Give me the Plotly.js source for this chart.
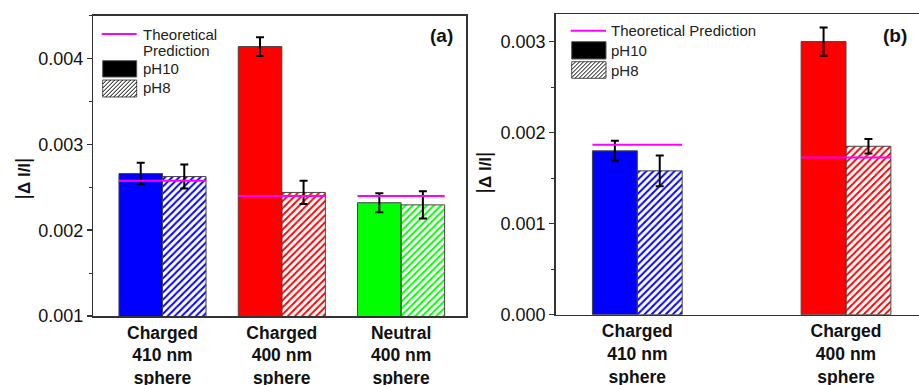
<!DOCTYPE html>
<html>
<head>
<meta charset="utf-8">
<script src="https://cdn.plot.ly/plotly-3.0.1.min.js"></script>
<style>html,body{margin:0;padding:0;background:#fff;}#chart{width:919px;height:385px;}</style>
</head>
<body>
<div id="chart"></div>
<script>
// ---------- data ----------
const categoriesA = ['Charged<br>410 nm<br>sphere', 'Charged<br>400 nm<br>sphere', 'Neutral<br>400 nm<br>sphere'];
const colorsA = ['#0000FF', '#FF0000', '#00FF00'];
const pH10A = [0.00266, 0.00414, 0.00232];
const pH10ErrA = [0.000125, 0.00011, 0.00011];
const pH8A = [0.002625, 0.00244, 0.002295];
const pH8ErrA = [0.00014, 0.000135, 0.00016];
const theoryA = [0.002575, 0.0024, 0.0024];

const categoriesB = ['Charged<br>410 nm<br>sphere', 'Charged<br>400 nm<br>sphere'];
const colorsB = ['#0000FF', '#FF0000'];
const pH10B = [0.0018, 0.0030];
const pH10ErrB = [0.00011, 0.000155];
const pH8B = [0.00158, 0.00185];
const pH8ErrB = [0.00017, 0.00008];
const theoryB = [0.001866, 0.001726];

const yTickValsA = [0.001, 0.002, 0.003, 0.004];
const yTickValsB = [0.000, 0.001, 0.002, 0.003];

// ---------- layout helpers ----------
const W = 919, H = 385;
const X = px => px / W;
const Y = py => 1 - py / H;
const FONT = 'Liberation Sans, Arial, sans-serif';
const bwA = 0.365, bwB = 0.215;
const outline = {color: '#444', width: 1};
const err = arr => ({type: 'data', array: arr, visible: true, color: '#000', thickness: 2, width: 4});

function panelTraces(cats, colors, p10, e10, p8, e8, th, bw, xa, ya) {
  const idx = cats.map((_, i) => i);
  const tx = [], ty = [];
  idx.forEach(i => { tx.push(i - bw, i + bw, null); ty.push(th[i], th[i], null); });
  return [
    {type: 'bar', x: idx, y: p10, width: bw, offset: -bw, xaxis: xa, yaxis: ya,
     marker: {color: colors, line: outline}, error_y: err(e10), showlegend: false, name: 'pH10'},
    {type: 'bar', x: idx, y: p8, width: bw, offset: 0, xaxis: xa, yaxis: ya,
     marker: {color: colors, line: outline,
              pattern: {shape: '/', fgcolor: colors, bgcolor: '#FFFFFF', size: 5, solidity: 0.4, fillmode: 'replace'}},
     error_y: err(e8), showlegend: false, name: 'pH8'},
    {type: 'scatter', mode: 'lines', x: tx, y: ty, xaxis: xa, yaxis: ya,
     line: {color: '#FF00FF', width: 2}, showlegend: false, name: 'Theoretical Prediction', connectgaps: false}
  ];
}

const data = [
  ...panelTraces(categoriesA, colorsA, pH10A, pH10ErrA, pH8A, pH8ErrA, theoryA, bwA, 'x', 'y'),
  ...panelTraces(categoriesB, colorsB, pH10B, pH10ErrB, pH8B, pH8ErrB, theoryB, bwB, 'x2', 'y2')
];

// ---------- custom legend shapes ----------
function hatch(x0, y0, x1, y1, step) {
  let d = '';
  const h = y1 - y0;
  for (let k = -h; k < x1 - x0; k += step) {
    const tmin = Math.max(0, -k), tmax = Math.min(h, x1 - x0 - k);
    if (tmax > tmin) {
      d += `M${X(x0 + k + tmin)},${Y(y1 - tmin)}L${X(x0 + k + tmax)},${Y(y1 - tmax)}`;
    }
  }
  return d;
}
function legendShapes(lx0, lx1, lineY, b1, b2) {
  return [
    {type: 'line', xref: 'paper', yref: 'paper', x0: X(lx0), x1: X(lx1), y0: Y(lineY), y1: Y(lineY), line: {color: '#FF00FF', width: 2}},
    {type: 'rect', xref: 'paper', yref: 'paper', x0: X(lx0 + 1), x1: X(lx1), y0: Y(b1[1]), y1: Y(b1[0]), fillcolor: '#000', line: {color: '#555', width: 1}},
    {type: 'rect', xref: 'paper', yref: 'paper', x0: X(lx0 + 1), x1: X(lx1), y0: Y(b2[1]), y1: Y(b2[0]), fillcolor: '#fff', line: {color: '#555', width: 1}},
    {type: 'path', xref: 'paper', yref: 'paper', path: hatch(lx0 + 1, b2[0], lx1, b2[1], 4), line: {color: '#000', width: 1}}
  ];
}
const shapes = [
  ...legendShapes(101.7, 136.7, 34, [60.7, 77], [80, 97]),
  ...legendShapes(570.7, 606, 30.7, [41.7, 59], [61.7, 78.3])
];

const legFont = {family: FONT, size: 15, color: '#222'};
const ann = (px, py, text, font, xanchor, angle) => ({xref: 'paper', yref: 'paper', x: X(px), y: Y(py), text, showarrow: false,
  xanchor: xanchor || 'left', yanchor: 'middle', font, textangle: angle || 0});
const yTitleText = '<span style="font-size:21px">|</span><b>Δ I/I</b><span style="font-size:21px">|</span>';
const yTitleFont = {family: FONT, size: 17, color: '#111'};
const annotations = [
  ann(141, 34, 'Theoretical', legFont), ann(141, 51, 'Prediction', legFont),
  ann(141, 69, 'pH10', legFont), ann(141, 88, 'pH8', legFont),
  ann(609, 30.7, 'Theoretical Prediction', legFont), ann(609, 50, 'pH10', legFont), ann(609, 70, 'pH8', legFont),
  ann(441, 35, '(a)', {family: FONT, size: 19, color: '#111', weight: 'bold'}, 'center'),
  ann(895, 35, '(b)', {family: FONT, size: 19, color: '#111', weight: 'bold'}, 'center'),
  ann(22, 178.5, yTitleText, yTitleFont, 'center', -90),
  ann(483.5, 172, yTitleText, yTitleFont, 'center', -90)
];

const axLine = {showline: true, linecolor: '#333', linewidth: 1.5, showgrid: false, zeroline: false};
const tickFont = {family: FONT, size: 18, color: '#111'};
const catFont = {family: FONT, size: 17.5, color: '#111', weight: 'bold'};

const layout = {
  width: W, height: H,
  margin: {l: 0, r: 0, t: 0, b: 0},
  paper_bgcolor: '#fff', plot_bgcolor: '#fff',
  barmode: 'overlay',
  showlegend: false,
  xaxis: Object.assign({}, axLine, {domain: [X(93.3), X(466)], range: [-0.58, 2.544], mirror: true, ticks: '',
    tickvals: categoriesA.map((_, i) => i), ticktext: categoriesA, tickfont: catFont, anchor: 'y', ticklabelstandoff: 0}),
  yaxis: Object.assign({}, axLine, {domain: [Y(316), Y(15.7)], range: [0.001, 0.0045], mirror: true, anchor: 'x',
    tickvals: yTickValsA, tickformat: '.3f', ticks: 'outside', ticklen: 5, tickwidth: 1.5, tickcolor: '#333', tickfont: tickFont,
    minor: {dtick: 0.0005, tick0: 0.001, ticks: 'outside', ticklen: 3, tickwidth: 1.2, tickcolor: '#333'}}),
  yaxis3: {overlaying: 'y', side: 'right', anchor: 'x', range: [0.001, 0.0045], showline: false, showgrid: false, zeroline: false,
    tickvals: yTickValsA, ticks: 'inside', ticklen: 6, tickwidth: 1.5, tickcolor: '#333', showticklabels: false,
    minor: {dtick: 0.0005, tick0: 0.001, ticks: 'inside', ticklen: 4, tickwidth: 1.2, tickcolor: '#333'}},
  xaxis2: Object.assign({}, axLine, {domain: [X(555.7), 1], range: [-0.391, 1.3497], mirror: true, ticks: '',
    tickvals: categoriesB.map((_, i) => i), ticktext: categoriesB, tickfont: catFont, anchor: 'y2', ticklabelstandoff: 0}),
  yaxis2: Object.assign({}, axLine, {domain: [Y(314.7), Y(14.3)], range: [0, 0.0033], mirror: false, anchor: 'x2',
    tickvals: yTickValsB, tickformat: '.3f', ticks: 'outside', ticklen: 5, tickwidth: 1.5, tickcolor: '#333', tickfont: tickFont,
    minor: {dtick: 0.0005, tick0: 0, ticks: 'outside', ticklen: 3, tickwidth: 1.2, tickcolor: '#333'}}),
  shapes, annotations
};

Plotly.newPlot('chart', data, layout, {staticPlot: true, displayModeBar: false});
</script>
</body>
</html>
